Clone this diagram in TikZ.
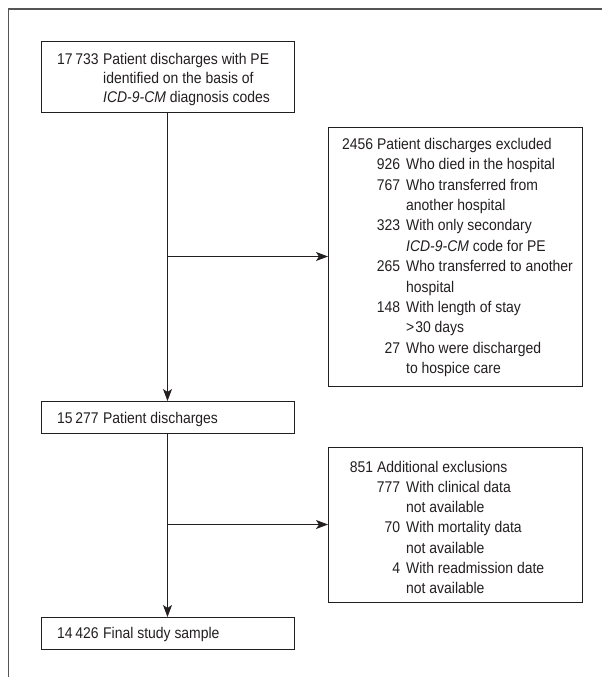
\documentclass[tikz,border=0pt]{standalone}
\usepackage{fontspec}
\setmainfont{Liberation Sans}[FakeStretch=0.9]
\usetikzlibrary{arrows.meta}
\definecolor{ink}{HTML}{231F20}
\definecolor{framec}{HTML}{555555}
\newcommand\mainl[2]{\makebox[32pt][r]{#1}\hspace{4pt}#2}
\newcommand\subl[2]{\makebox[59pt][r]{#1}\hspace{6pt}#2}
\newcommand\contl[1]{\hspace*{65pt}#1}
\newcommand\topl[2]{\makebox[46pt][l]{#1}#2}
\newcommand\topc[1]{\hspace*{46pt}#1}
\begin{document}
\begin{tikzpicture}[x=1pt,y=-1pt,
  box/.style={draw=ink, line width=0.9pt, anchor=north west, inner sep=0pt, outer sep=0pt},
  txt/.style={anchor=north west, inner sep=0pt, align=left, text=ink, font=\fontsize{15.5}{20.4}\selectfont},
  arr/.style={draw=ink, line width=0.9pt, -{Stealth[length=12pt,width=9pt,inset=3pt]}},
  frameline/.style={draw=framec, line width=1.8pt}]
\useasboundingbox (0,0) rectangle (602,677);
\draw[frameline] (8.5,677) -- (8.5,9) -- (602,9);
% boxes
\node[box, minimum width=253pt, minimum height=71pt] (n1) at (41,41) {};
\node[box, minimum width=253pt, minimum height=32pt] (n2) at (41,401) {};
\node[box, minimum width=253pt, minimum height=32pt] (n3) at (41,617) {};
\node[box, minimum width=254pt, minimum height=259pt] (e1) at (328,127) {};
\node[box, minimum width=254pt, minimum height=155pt] (e2) at (328,447) {};
% texts
\node[txt, font=\fontsize{15.5}{19}\selectfont] (t1) at (57,52.9) {\topl{17\,733}{Patient discharges with PE}\\\topc{identified on the basis of}\\\topc{\textit{ICD-9-CM} diagnosis codes}};
\node[txt] (t2) at (57,411.6) {\topl{15\,277}{Patient discharges}};
\node[txt] (t3) at (57,627.2) {\topl{14\,426}{Final study sample}};
\node[txt] (te1) at (341,137.9) {\mainl{2456}{Patient discharges excluded}\\
\subl{926}{Who died in the hospital}\\
\subl{767}{Who transferred from}\\
\contl{another hospital}\\
\subl{323}{With only secondary}\\
\contl{\textit{ICD-9-CM} code for PE}\\
\subl{265}{Who transferred to another}\\
\contl{hospital}\\
\subl{148}{With length of stay}\\
\contl{>\kern1pt30 days}\\
\subl{27}{Who were discharged}\\
\contl{to hospice care}};
\node[txt, font=\fontsize{15.5}{20.2}\selectfont] (te2) at (341,460.9) {\mainl{851}{Additional exclusions}\\
\subl{777}{With clinical data}\\
\contl{not available}\\
\subl{70}{With mortality data}\\
\contl{not available}\\
\subl{4}{With readmission date}\\
\contl{not available}};
% connectors
\coordinate (j1) at (n1.south |- e1.west);
\coordinate (j2) at (n2.south |- e2.west);
\draw[arr] (n1.south) -- (n2.north);
\draw[arr] (j1) -- (e1.west);
\draw[arr] (n2.south) -- (n3.north);
\draw[arr] (j2) -- (e2.west);
\end{tikzpicture}
\end{document}
